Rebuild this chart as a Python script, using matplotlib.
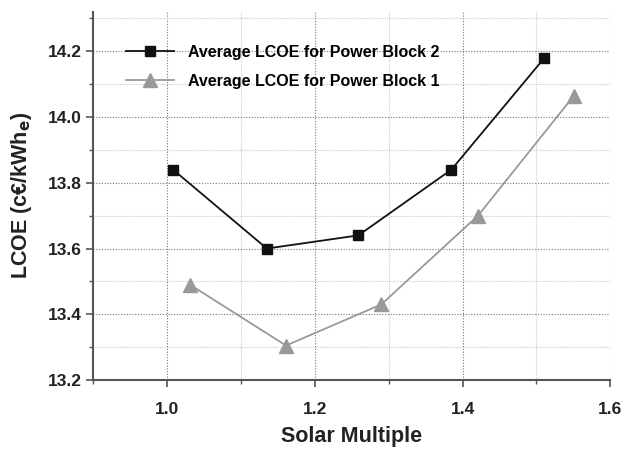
import numpy as np
import matplotlib
matplotlib.use('Agg')
import matplotlib.pyplot as plt
from matplotlib.ticker import MultipleLocator

plt.rcParams['font.family'] = ['Liberation Sans', 'DejaVu Sans']
plt.rcParams['font.weight'] = 'bold'

# Power Block 2
sm_pb2 = [1.008, 1.135, 1.259, 1.385, 1.511]
lcoe_pb2 = [13.84, 13.60, 13.64, 13.84, 14.18]
# Power Block 1
sm_pb1 = [1.031, 1.161, 1.290, 1.421, 1.551]
lcoe_pb1 = [13.49, 13.305, 13.43, 13.70, 14.065]

fig = plt.figure(figsize=(6.22, 4.53), dpi=100)
ax = fig.add_axes([0.150, 0.161, 0.831, 0.813])

ax.plot(sm_pb2, lcoe_pb2, color='#111111', lw=1.3, marker='s', ms=7.5,
        label='Average LCOE for Power Block 2', zorder=3)
ax.plot(sm_pb1, lcoe_pb1, color='#999999', lw=1.3, marker='^', ms=9.5,
        label='Average LCOE for Power Block 1', zorder=3)

ax.set_xlim(0.9, 1.6)
ax.set_ylim(13.2, 14.32)
ax.xaxis.set_minor_locator(MultipleLocator(0.1))
ax.yaxis.set_minor_locator(MultipleLocator(0.1))
ax.set_xticks([1.0, 1.2, 1.4, 1.6])
ax.set_xticklabels(['1.0', '1.2', '1.4', '1.6'])
ax.set_yticks([13.2, 13.4, 13.6, 13.8, 14.0, 14.2])
ax.set_yticklabels(['13.2', '13.4', '13.6', '13.8', '14.0', '14.2'])

ax.grid(which='major', color='#777777', ls=(0, (1, 1.5)), lw=0.8)
ax.grid(which='minor', color='#cccccc', ls=(0, (1, 1)), lw=0.8)
ax.set_axisbelow(True)

for s in ['top', 'right']:
    ax.spines[s].set_visible(False)
for s in ['left', 'bottom']:
    ax.spines[s].set_color('#555555')
    ax.spines[s].set_linewidth(1.5)

ax.tick_params(which='major', direction='out', length=5, width=1.2,
               color='#555555', labelsize=12.5, labelcolor='#222222')
ax.tick_params(axis='x', which='major', pad=11)
ax.tick_params(which='minor', direction='out', length=3, width=1,
               color='#555555')

ax.set_xlabel('Solar Multiple', fontsize=15.5, fontweight='bold', labelpad=6,
              color='#222222')
ax.set_ylabel('LCOE (c€/kWh$_\\mathbf{e}$)', fontsize=15.5, fontweight='bold',
              labelpad=10, color='#222222')

ax.legend(loc='upper left', bbox_to_anchor=(0.035, 0.95), frameon=False,
          fontsize=11.5, handlelength=3.0, labelspacing=0.9,
          handletextpad=0.9)

fig.savefig('out.png', dpi=100)
